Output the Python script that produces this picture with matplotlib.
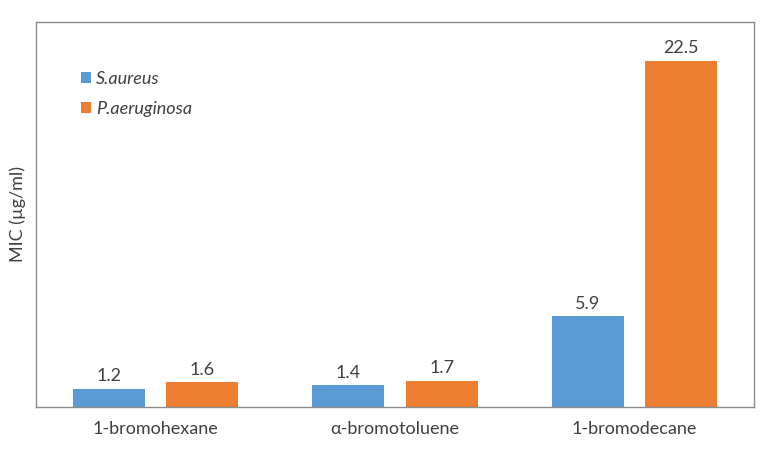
import matplotlib.pyplot as plt
import numpy as np

plt.rcParams['font.family'] = ['Lato', 'DejaVu Sans']

compounds = ['1-bromohexane', 'α-bromotoluene', '1-bromodecane']
s_aureus = [1.2, 1.4, 5.9]
p_aeruginosa = [1.6, 1.7, 22.5]
series_names = ['S.aureus', 'P.aeruginosa']

blue = '#5B9BD5'
orange = '#ED7D31'
txt = '#404040'
fs = 13

fig = plt.figure(figsize=(7.65, 4.53), dpi=100)
ax = fig.add_axes([36/765, 1-407/453, 718/765, 385/453])

x = np.arange(len(compounds))
w = 0.30
off = 0.195
b1 = ax.bar(x - off, s_aureus, w, color=blue, label=series_names[0])
b2 = ax.bar(x + off, p_aeruginosa, w, color=orange, label=series_names[1])

for bars, vals in [(b1, s_aureus), (b2, p_aeruginosa)]:
    for r, v in zip(bars, vals):
        ax.text(r.get_x() + r.get_width()/2, v + 0.3, f'{v}', ha='center',
                va='bottom', fontsize=fs, color=txt)

ax.set_xlim(-0.5, 2.5)
ax.set_ylim(0, 25)
ax.set_yticks([])
ax.set_xticks(x)
ax.set_xticklabels(compounds, fontsize=fs, color=txt)
ax.tick_params(axis='x', length=0, pad=10)
for sp in ax.spines.values():
    sp.set_color('#8c8c8c')
    sp.set_linewidth(1)
ax.set_ylabel('MIC (µg/ml)', fontsize=fs, color=txt, labelpad=7)

leg = ax.legend(loc='upper left', bbox_to_anchor=(0.04, 0.915), frameon=False,
                handlelength=0.55, handleheight=0.55, handletextpad=0.3,
                labelspacing=0.75, prop={'style': 'italic', 'size': fs})
for t in leg.get_texts():
    t.set_color(txt)

plt.savefig('out.png', dpi=100)
